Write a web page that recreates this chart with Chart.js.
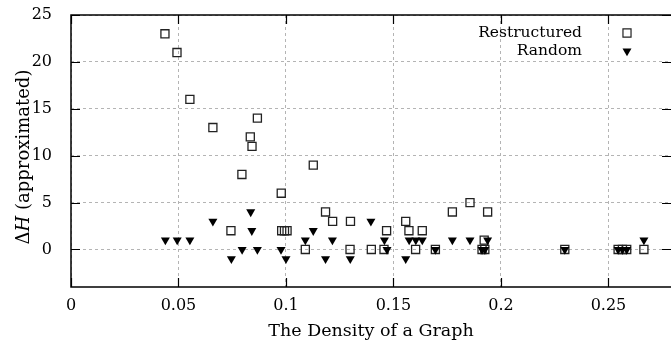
<!DOCTYPE html>
<html>
<head>
<meta charset="utf-8">
<script src="https://cdn.jsdelivr.net/npm/chart.js@4/dist/chart.umd.min.js"></script>
<style>
  html, body { margin: 0; padding: 0; background: #fff; }
  #wrap { width: 671px; height: 341px; }
</style>
</head>
<body>
<div id="wrap"><canvas id="densityChart"></canvas></div>
<script>
// graph density vs. delta H
const restructuredX = [0.0437, 0.0493, 0.0553, 0.066, 0.0867, 0.0834, 0.0842, 0.0795, 0.0978, 0.1127,
  0.0744, 0.098, 0.0993, 0.1005, 0.109, 0.1184, 0.1217, 0.130, 0.1557, 0.1468,
  0.1572, 0.1634, 0.1774, 0.1856, 0.1938, 0.1922, 0.1298, 0.1397, 0.1456, 0.1603,
  0.1695, 0.1912, 0.1925, 0.2297, 0.2545, 0.2565, 0.2585, 0.2665];
const restructuredY = [23, 21, 16, 13, 14, 12, 11, 8, 6, 9,
  2, 2, 2, 2, 0, 4, 3, 3, 3, 2,
  2, 2, 4, 5, 4, 1, 0, 0, 0, 0,
  0, 0, 0, 0, 0, 0, 0, 0];

const randomX = [0.0439, 0.0494, 0.0553, 0.066, 0.0836, 0.0841, 0.0796, 0.0867, 0.0746, 0.0977,
  0.1, 0.109, 0.1127, 0.1395, 0.1216, 0.1458, 0.1573, 0.1604, 0.1634, 0.1774,
  0.1856, 0.1938, 0.147, 0.1695, 0.1912, 0.1925, 0.1184, 0.1299, 0.1557, 0.2297,
  0.2545, 0.2565, 0.2585, 0.2665];
const randomY = [1, 1, 1, 3, 4, 2, 0, 0, -1, 0,
  -1, 1, 2, 3, 1, 1, 1, 1, 1, 1,
  1, 1, 0, 0, 0, 0, -1, -1, -1, 0,
  0, 0, 0, 1];

const xTicks = [0, 0.05, 0.1, 0.15, 0.2, 0.25];
const yTicks = [0, 5, 10, 15, 20, 25];
const seriesNames = ['Restructured', 'Random'];

const toPoints = (xs, ys) => xs.map((v, i) => ({ x: v, y: ys[i] }));

const FONT = '"DejaVu Serif", serif';

// frame, inward tick marks, legend and axis titles like gnuplot
const gnuplotFrame = {
  id: 'gnuplotFrame',
  afterDraw(chart) {
    const { ctx, chartArea: a, scales: { x, y } } = chart;
    ctx.save();
    ctx.strokeStyle = '#000';
    ctx.lineWidth = 1.5;
    ctx.beginPath();
    ctx.moveTo(a.right, a.top);
    ctx.lineTo(a.left, a.top);
    ctx.lineTo(a.left, a.bottom);
    ctx.lineTo(a.right, a.bottom);
    ctx.stroke();

    ctx.lineWidth = 1.2;
    ctx.beginPath();
    x.ticks.forEach(t => {
      const px = Math.round(x.getPixelForValue(t.value)) + 0.5;
      ctx.moveTo(px, a.top); ctx.lineTo(px, a.top + 9);
      ctx.moveTo(px, a.bottom); ctx.lineTo(px, a.bottom - 9);
    });
    y.ticks.forEach(t => {
      const py = Math.round(y.getPixelForValue(t.value)) + 0.5;
      ctx.moveTo(a.left, py); ctx.lineTo(a.left + 9, py);
      ctx.moveTo(a.right, py); ctx.lineTo(a.right - 9, py);
    });
    ctx.stroke();

    // legend
    ctx.font = '15.5px ' + FONT;
    ctx.fillStyle = '#000';
    ctx.textAlign = 'right';
    ctx.textBaseline = 'middle';
    const lx = a.right - 89, mx = a.right - 44;
    const rows = [a.top + 18, a.top + 36];
    ctx.fillText(seriesNames[0], lx, rows[0]);
    ctx.fillText(seriesNames[1], lx, rows[1]);
    chart.data.datasets.forEach(ds => {
      const row = ds.label === seriesNames[0] ? rows[0] : rows[1];
      ctx.strokeStyle = ds.borderColor;
      ctx.fillStyle = ds.backgroundColor;
      Chart.helpers.drawPoint(ctx, {
        pointStyle: ds.pointStyle, radius: ds.pointRadius,
        rotation: ds.rotation || 0, borderWidth: ds.borderWidth
      }, mx, row);
    });

    // y title: ΔH (approximated)
    ctx.fillStyle = '#000';
    ctx.translate(24, (a.top + a.bottom) / 2 + 6);
    ctx.rotate(-Math.PI / 2);
    const parts = [['Δ', ''], ['H', 'italic '], [' (approximated)', '']];
    let total = 0;
    parts.forEach(p => { ctx.font = p[1] + '18px ' + FONT; total += ctx.measureText(p[0]).width; });
    let cx = -total / 2;
    ctx.textAlign = 'left';
    parts.forEach(p => {
      ctx.font = p[1] + '18px ' + FONT;
      ctx.fillText(p[0], cx, 0);
      cx += ctx.measureText(p[0]).width;
    });
    ctx.restore();

    // x title
    ctx.save();
    ctx.font = '17.5px ' + FONT;
    ctx.fillStyle = '#000';
    ctx.textAlign = 'center';
    ctx.textBaseline = 'middle';
    ctx.fillText('The Density of a Graph', (a.left + a.right) / 2, 331);
    ctx.restore();
  }
};

new Chart(document.querySelector('#densityChart'), {
  type: 'scatter',
  data: {
    datasets: [{
      label: seriesNames[0],
      data: toPoints(restructuredX, restructuredY),
      pointStyle: 'rect',
      pointRadius: 5.7,
      borderWidth: 1.3,
      borderColor: '#222',
      backgroundColor: 'rgba(0,0,0,0)',
      order: 2
    }, {
      label: seriesNames[1],
      data: toPoints(randomX, randomY),
      pointStyle: 'triangle',
      rotation: 180,
      pointRadius: 5.2,
      borderWidth: 0,
      borderColor: '#000',
      backgroundColor: '#000',
      order: 1
    }]
  },
  options: {
    responsive: true,
    maintainAspectRatio: false,
    animation: false,
    events: [],
    layout: { autoPadding: false, padding: { top: 15, right: 0, bottom: 0, left: 0 } },
    plugins: { legend: { display: false }, tooltip: { enabled: false } },
    scales: {
      x: {
        type: 'linear',
        min: 0,
        max: 0.2791,
        afterFit: s => { s.height = 54; s.paddingLeft = 0; s.paddingRight = 0; },
        afterBuildTicks: s => { s.ticks = xTicks.map(v => ({ value: v })); },
        grid: { color: '#b4b4b4', lineWidth: 1, drawTicks: false },
        border: { display: false, dash: [3, 3] },
        ticks: {
          color: '#000',
          font: { family: FONT, size: 16 },
          padding: 9,
          maxRotation: 0,
          callback: v => String(+v.toFixed(2))
        }
      },
      y: {
        type: 'linear',
        min: -4,
        max: 25,
        afterFit: s => { s.width = 71; s.paddingTop = 0; s.paddingBottom = 0; },
        afterBuildTicks: s => { s.ticks = yTicks.map(v => ({ value: v })); },
        grid: { color: '#b4b4b4', lineWidth: 1, drawTicks: false },
        border: { display: false, dash: [3, 3] },
        ticks: {
          color: '#000',
          font: { family: FONT, size: 16 },
          padding: 19,
          callback: v => String(v)
        }
      }
    }
  },
  plugins: [gnuplotFrame]
});
</script>
</body>
</html>
